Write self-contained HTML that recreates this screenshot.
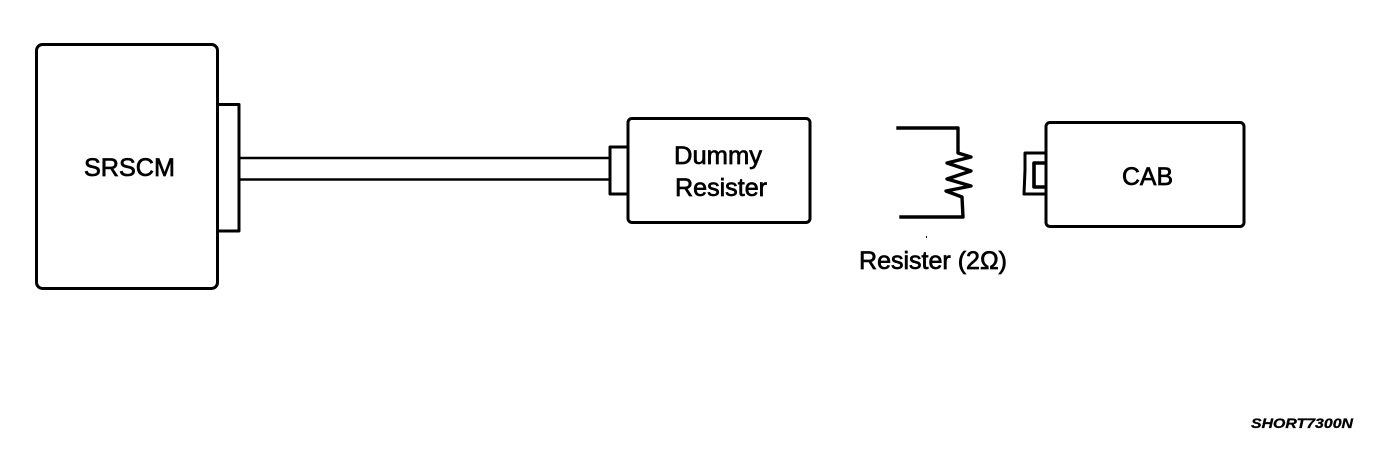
<!DOCTYPE html>
<html>
<head>
<meta charset="utf-8">
<style>
html,body{margin:0;padding:0;background:#fff;width:1392px;height:452px;overflow:hidden}
svg{display:block}
text{font-family:"Liberation Sans",sans-serif;fill:#000;font-size:25px;stroke:#000;stroke-width:.7px}
.l{fill:none;stroke:#000;stroke-width:3;stroke-linejoin:round;stroke-linecap:square}
</style>
</head>
<body>
<svg width="1392" height="452" viewBox="0 0 1392 452" xmlns="http://www.w3.org/2000/svg">
<rect class="l" x="36.500" y="44.500" width="181" height="244" rx="6"/>
<path class="l" d="M218 104.500H239V231H218"/>
<path class="l" style="stroke-width:2.600" d="M240 158H610M240 179.500H610"/>
<rect class="l" x="628" y="118.500" width="182" height="104" rx="4"/>
<path class="l" d="M627 147H610V194H627"/>
<path class="l" style="stroke-width:3.400" d="M898 128H958V153L971 157L947 163L971 171L947 179L971 186L946 191L962 197L963 217H901"/>
<rect class="l" x="1046" y="122.500" width="198" height="104" rx="4"/>
<path class="l" d="M1045 153H1025V170L1024 194H1045"/>
<path class="l" style="stroke-width:3.600" d="M1045 163H1034V187H1045"/>
<rect x="926" y="236" width="1" height="2" fill="#000"/>
<text x="84" y="176" textLength="91" lengthAdjust="spacingAndGlyphs">SRSCM</text>
<text x="674" y="164" textLength="88" lengthAdjust="spacingAndGlyphs">Dummy</text>
<text x="675" y="196" textLength="92" lengthAdjust="spacingAndGlyphs">Resister</text>
<text x="859" y="269" textLength="148" lengthAdjust="spacingAndGlyphs">Resister (2Ω)</text>
<text x="1122" y="185" textLength="51" lengthAdjust="spacingAndGlyphs">CAB</text>
<text x="1251" y="428" textLength="102" lengthAdjust="spacingAndGlyphs" style="font-size:14px;font-weight:bold;font-style:italic;stroke-width:.3px">SHORT7300N</text>
</svg>
</body>
</html>
